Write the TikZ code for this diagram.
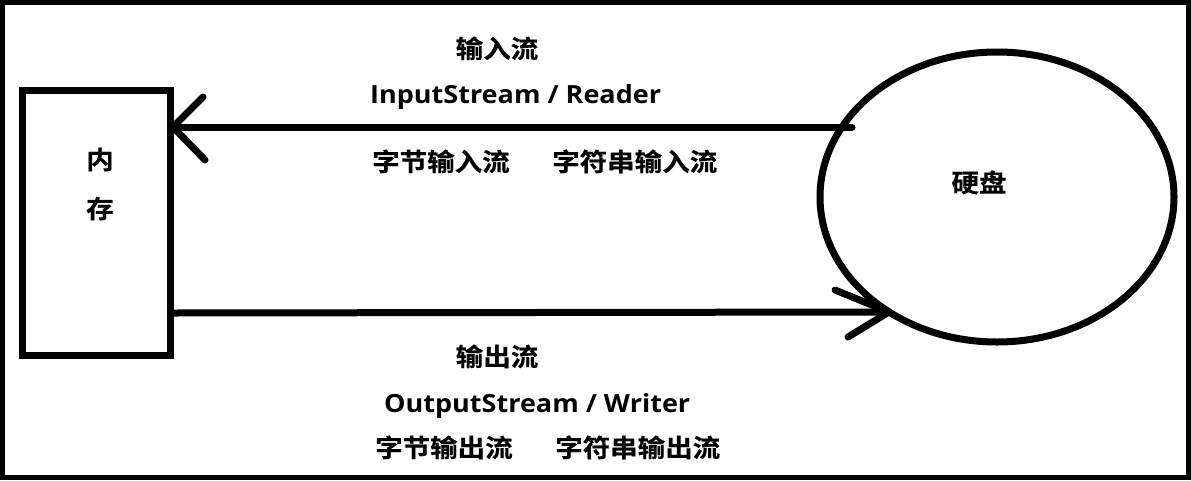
\documentclass[tikz,border=0pt]{standalone}
\usepackage{fontspec}
\usetikzlibrary{shapes.geometric}
\newfontfamily\cjkbold{Noto Sans CJK SC Bold}[FakeStretch=1.1, FakeBold=0.4]
\newfontfamily\latbold{Open Sans}[FakeStretch=1.08]
\begin{document}
\begin{tikzpicture}[x=1pt,y=-1pt,
  thick line/.style={line width=7pt, line cap=round, line join=round},
  cjk/.style={font=\cjkbold\fontsize{25}{25}\selectfont, inner sep=0pt, anchor=base},
  lat/.style={font=\latbold\bfseries\fontsize{25}{25}\selectfont, inner sep=0pt, anchor=base west},
]
\useasboundingbox (0,0) rectangle (1191,480);
\fill[white] (0,0) rectangle (1191,480);
\draw[line width=5pt] (2.5,2.5) rectangle (1188.5,477.5);

% memory box
\node (mem) [draw, line width=7pt, minimum width=148pt, minimum height=265pt, inner sep=0pt] at (96,222.5) {};
\node (memtxt1) [cjk, anchor=base] at (100,169) {内};
\node (memtxt2) [cjk, anchor=base] at (100,218) {存};

% disk ellipse
\node (disk) [draw, ellipse, line width=7pt, minimum width=354pt, minimum height=290pt, inner sep=0pt] at (997,197) {};
\node (disktxt) [cjk, anchor=base] at (979,192) {硬盘};

% input arrow
\coordinate (inStart) at (852,127);
\coordinate (inTip) at (173,127);
\draw[thick line] (inStart) -- (inTip);
\draw[thick line] ([shift={(30,-30)}]inTip) -- (inTip) -- ([shift={(32,33)}]inTip);

% output arrow
\coordinate (outStart) at (173,313);
\coordinate (outTip) at (889,312);
\draw[thick line, line cap=butt] (outStart) -- (outTip);
\draw[thick line] ([shift={(-54,-22)}]outTip) -- (outTip) -- ([shift={(-41,25)}]outTip);

% labels
\node (inlbl) [cjk, anchor=base] at (497,58) {输入流};
\node (inclass) [lat] at (370,103) {InputStream / Reader};
\node (inbyte) [cjk, anchor=base west] at (372,171) {字节输入流};
\node (inchar) [cjk, anchor=base west] at (552,171) {字符串输入流};

\node (outlbl) [cjk, anchor=base] at (497,366) {输出流};
\node (outclass) [lat] at (384,412) {OutputStream / Writer};
\node (outbyte) [cjk, anchor=base west] at (375,457) {字节输出流};
\node (outchar) [cjk, anchor=base west] at (555,457) {字符串输出流};
\end{tikzpicture}
\end{document}
